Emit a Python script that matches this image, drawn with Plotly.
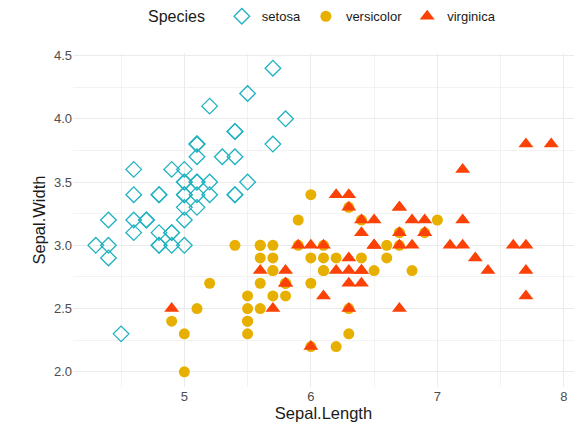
import plotly.graph_objects as go

# Iris sepal measurements by species
setosa_length = [5.1, 4.9, 4.7, 4.6, 5.0, 5.4, 4.6, 5.0, 4.4, 4.9, 5.4, 4.8, 4.8, 4.3, 5.8, 5.7, 5.4, 5.1, 5.7, 5.1,
                 5.4, 5.1, 4.6, 5.1, 4.8, 5.0, 5.0, 5.2, 5.2, 4.7, 4.8, 5.4, 5.2, 5.5, 4.9, 5.0, 5.5, 4.9, 4.4, 5.1,
                 5.0, 4.5, 4.4, 5.0, 5.1, 4.8, 5.1, 4.6, 5.3, 5.0]
setosa_width = [3.5, 3.0, 3.2, 3.1, 3.6, 3.9, 3.4, 3.4, 2.9, 3.1, 3.7, 3.4, 3.0, 3.0, 4.0, 4.4, 3.9, 3.5, 3.8, 3.8,
                3.4, 3.7, 3.6, 3.3, 3.4, 3.0, 3.4, 3.5, 3.4, 3.2, 3.1, 3.4, 4.1, 4.2, 3.1, 3.2, 3.5, 3.6, 3.0, 3.4,
                3.5, 2.3, 3.2, 3.5, 3.8, 3.0, 3.8, 3.2, 3.7, 3.3]

versicolor_length = [7.0, 6.4, 6.9, 5.5, 6.5, 5.7, 6.3, 4.9, 6.6, 5.2, 5.0, 5.9, 6.0, 6.1, 5.6, 6.7, 5.6, 5.8, 6.2, 5.6,
                     5.9, 6.1, 6.3, 6.1, 6.4, 6.6, 6.8, 6.7, 6.0, 5.7, 5.5, 5.5, 5.8, 6.0, 5.4, 6.0, 6.7, 6.3, 5.6, 5.5,
                     5.5, 6.1, 5.8, 5.0, 5.6, 5.7, 5.7, 6.2, 5.1, 5.7]
versicolor_width = [3.2, 3.2, 3.1, 2.3, 2.8, 2.8, 3.3, 2.4, 2.9, 2.7, 2.0, 3.0, 2.2, 2.9, 2.9, 3.1, 3.0, 2.7, 2.2, 2.5,
                    3.2, 2.8, 2.5, 2.8, 2.9, 3.0, 2.8, 3.0, 2.9, 2.6, 2.4, 2.4, 2.7, 2.7, 3.0, 3.4, 3.1, 2.3, 3.0, 2.5,
                    2.6, 3.0, 2.6, 2.3, 2.7, 3.0, 2.9, 2.9, 2.5, 2.8]

virginica_length = [6.3, 5.8, 7.1, 6.3, 6.5, 7.6, 4.9, 7.3, 6.7, 7.2, 6.5, 6.4, 6.8, 5.7, 5.8, 6.4, 6.5, 7.7, 7.7, 6.0,
                    6.9, 5.6, 7.7, 6.3, 6.7, 7.2, 6.2, 6.1, 6.4, 7.2, 7.4, 7.9, 6.4, 6.3, 6.1, 7.7, 6.3, 6.4, 6.0, 6.9,
                    6.7, 6.9, 5.8, 6.8, 6.7, 6.7, 6.3, 6.5, 6.2, 5.9]
virginica_width = [3.3, 2.7, 3.0, 2.9, 3.0, 3.0, 2.5, 2.9, 2.5, 3.6, 3.2, 2.7, 3.0, 2.5, 2.8, 3.2, 3.0, 3.8, 2.6, 2.2,
                   3.2, 2.8, 2.8, 2.7, 3.3, 3.2, 2.8, 3.0, 2.8, 3.0, 2.8, 3.8, 2.8, 2.8, 2.6, 3.0, 3.4, 3.1, 3.0, 3.1,
                   3.1, 3.1, 2.7, 3.2, 3.3, 3.0, 2.5, 3.0, 3.4, 3.0]

species = ["setosa", "versicolor", "virginica"]
colors = ["#1FB2C0", "#E7B000", "#FC4107"]

FONT = "Liberation Sans, Arial, sans-serif"

fig = go.Figure()
fig.add_trace(go.Scatter(
    x=setosa_length, y=setosa_width, mode="markers", name=species[0],
    marker=dict(symbol="diamond-open", size=12, color=colors[0], line=dict(width=1.3, color=colors[0])),
))
fig.add_trace(go.Scatter(
    x=versicolor_length, y=versicolor_width, mode="markers", name=species[1],
    marker=dict(symbol="circle", size=11, color=colors[1], line=dict(width=0)),
))
fig.add_trace(go.Scatter(
    x=virginica_length, y=virginica_width, mode="markers", name=species[2],
    marker=dict(symbol="triangle-up", size=13, color=colors[2], line=dict(width=0)),
))

grid = "#EBEBEB"
fig.update_layout(
    width=577, height=429,
    margin=dict(l=73, r=3, t=53, b=42),
    paper_bgcolor="white", plot_bgcolor="white",
    font=dict(family=FONT, color="#4D4D4D", size=13),
    legend=dict(
        orientation="h", x=0.5, xanchor="center", xref="paper",
        y=0.997, yanchor="top", yref="container",
        title=dict(text="Species  ", font=dict(size=16, color="#1A1A1A"), side="left"),
        font=dict(size=13, color="#1A1A1A"), itemwidth=30,
    ),
    xaxis=dict(
        range=[4.12, 8.08], tickvals=[5, 6, 7, 8], showline=False, zeroline=False,
        showgrid=True, gridcolor=grid, gridwidth=1.3, ticks="",
        minor=dict(tickvals=[4.5, 5.5, 6.5, 7.5], showgrid=True, gridcolor="#F2F2F2", gridwidth=1),
        title=dict(text="Sepal.Length", font=dict(size=16.5, color="#1A1A1A"), standoff=4),
        tickfont=dict(size=13, color="#4D4D4D"),
    ),
    yaxis=dict(
        range=[1.88, 4.52], tickvals=[2.0, 2.5, 3.0, 3.5, 4.0, 4.5], ticktext=["2.0", "2.5", "3.0", "3.5", "4.0", "4.5"],
        showline=False, zeroline=False, showgrid=True, gridcolor=grid, gridwidth=1.3, ticks="",
        minor=dict(tickvals=[2.25, 2.75, 3.25, 3.75, 4.25], showgrid=True, gridcolor="#F2F2F2", gridwidth=1),
        title=dict(text="Sepal.Width", font=dict(size=16.5, color="#1A1A1A"), standoff=4),
        tickfont=dict(size=13, color="#4D4D4D"),
    ),
)

fig.write_html("out.html")
